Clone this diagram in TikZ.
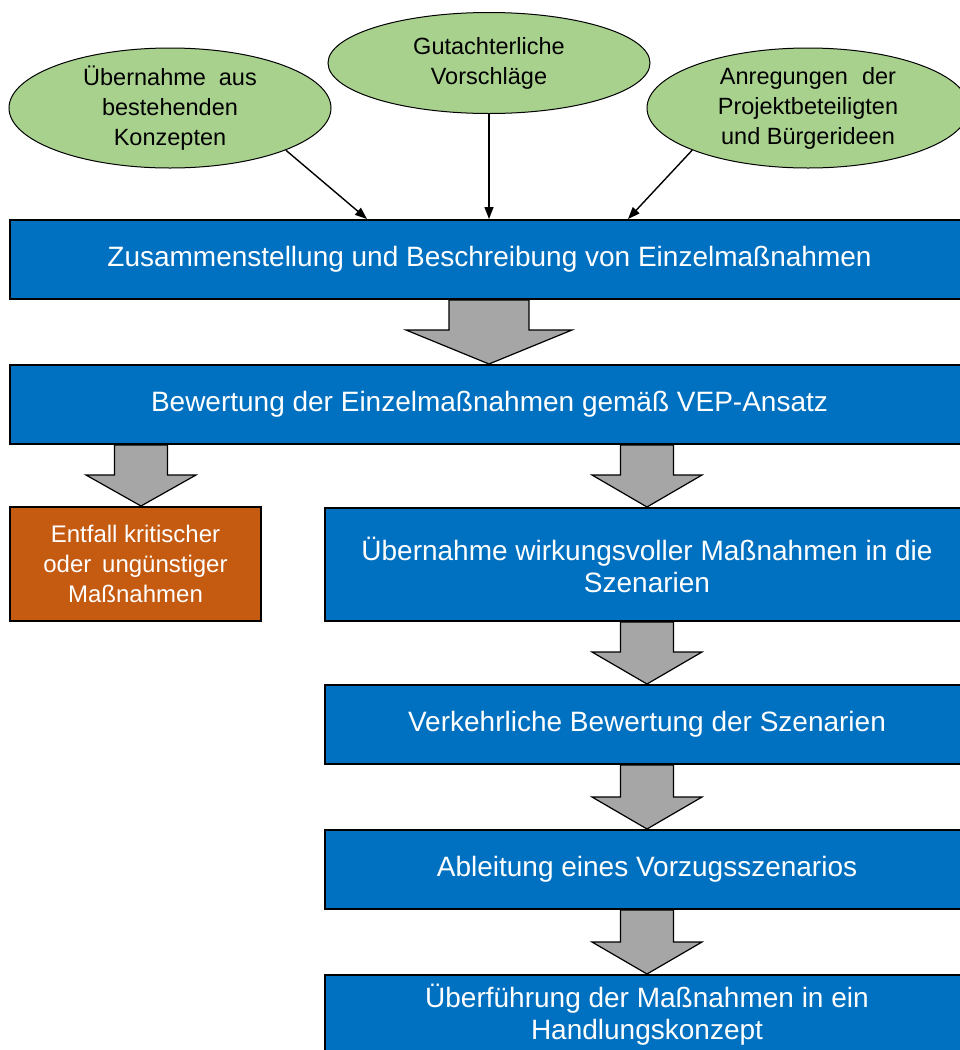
\documentclass[tikz,border=0pt]{standalone}
\usepackage{fontspec}
\setmainfont{Liberation Sans}
\usetikzlibrary{shapes.geometric,arrows.meta,calc,backgrounds}
\definecolor{boxblue}{HTML}{0070C0}
\definecolor{boxorange}{HTML}{C55A11}
\definecolor{ellgreen}{HTML}{A9D18E}
\definecolor{arrgray}{HTML}{A6A6A6}
\newcommand{\blockarr}[6]{% top node, bottom node, x coordinate, shaft hw, head hw, head length
  \draw[barrow] ($(#1.south -| #3)+(-#4,0)$) -- ($(#2.north -| #3)+(-#4,-#6)$) -- ($(#2.north -| #3)+(-#5,-#6)$) -- (#2.north -| #3) -- ($(#2.north -| #3)+(#5,-#6)$) -- ($(#2.north -| #3)+(#4,-#6)$) -- ($(#1.south -| #3)+(#4,0)$) -- cycle;}
\begin{document}
\begin{tikzpicture}[x=1pt,y=-1pt,
  bluebox/.style={draw=black, line width=2pt, fill=boxblue, text=white, align=center, inner sep=0pt, font=\fontsize{28}{32}\selectfont},
  orangebox/.style={draw=black, line width=2pt, fill=boxorange, text=white, align=center, inner sep=0pt, font=\fontsize{24}{30}\selectfont},
  ell/.style={ellipse, draw=black, line width=1pt, fill=ellgreen, align=center, inner sep=0pt, font=\fontsize{23.5}{30}\selectfont},
  conn/.style={line width=1.4pt, -{Triangle[length=12pt,width=9pt]}},
  barrow/.style={draw=black, line width=1.2pt, fill=arrgray, line join=miter}
]
\useasboundingbox (0,0) rectangle (960,1050);
\clip (0,0) rectangle (960,1050);

% ellipses
\node[ell, minimum width=322pt, minimum height=120pt] (e1) at (170,108) {Übernahme\hspace{0.55em}aus\\bestehenden\\Konzepten};
\node[ell, minimum width=322pt, minimum height=101pt] (e2) at (489,63) {Gutachterliche\\Vorschläge};
\node[ell, minimum width=322pt, minimum height=120pt] (e3) at (808,108) {Anregungen\hspace{0.6em}der\\Projektbeteiligten\\und Bürgerideen};

% boxes
\node[bluebox, minimum width=959pt, minimum height=79pt] (b1) at (489.5,259.5) {\raisebox{-2pt}{Zusammenstellung und Beschreibung von Einzelmaßnahmen}};
\node[bluebox, minimum width=959pt, minimum height=79pt] (b2) at (489.5,404.5) {\raisebox{-2pt}{Bewertung der Einzelmaßnahmen gemäß VEP-Ansatz}};
\node[orangebox, minimum width=251pt, minimum height=114pt] (o1) at (135.5,564) {Entfall kritischer\\oder\hspace{0.45em}ungünstiger\\Maßnahmen};
\node[bluebox, minimum width=644pt, minimum height=113pt] (b3) at (647,564.5) {Übernahme wirkungsvoller Maßnahmen in die\\Szenarien};
\node[bluebox, minimum width=644pt, minimum height=79pt] (b4) at (647,724.5) {\raisebox{-2pt}{Verkehrliche Bewertung der Szenarien}};
\node[bluebox, minimum width=644pt, minimum height=79pt] (b5) at (647,869.5) {\raisebox{-2pt}{Ableitung eines Vorzugsszenarios}};
\node[bluebox, minimum width=644pt, minimum height=79pt] (b6) at (647,1014.5) {Überführung der Maßnahmen in ein\\Handlungskonzept};

% x positions
\coordinate (xm) at (489,0);
\coordinate (xl) at (141,0);
\coordinate (xr) at (647,0);
\coordinate (t1) at (367,0);
\coordinate (t3) at (628,0);

% connectors
\draw[conn] (e1.-20) -- (b1.north -| t1);
\draw[conn] (e2.south) -- (b1.north -| xm);
\draw[conn] (e3.200) -- (b1.north -| t3);

% block arrows
\begin{pgfonlayer}{background}
\blockarr{b1}{b2}{xm}{40}{83}{34}
\blockarr{b2}{o1}{xl}{26.5}{55}{31}
\blockarr{b2}{b3}{xr}{26.5}{55}{32}
\blockarr{b3}{b4}{xr}{26.5}{55}{32}
\blockarr{b4}{b5}{xr}{26.5}{55}{32}
\blockarr{b5}{b6}{xr}{26.5}{55}{32}
\end{pgfonlayer}
\end{tikzpicture}
\end{document}
